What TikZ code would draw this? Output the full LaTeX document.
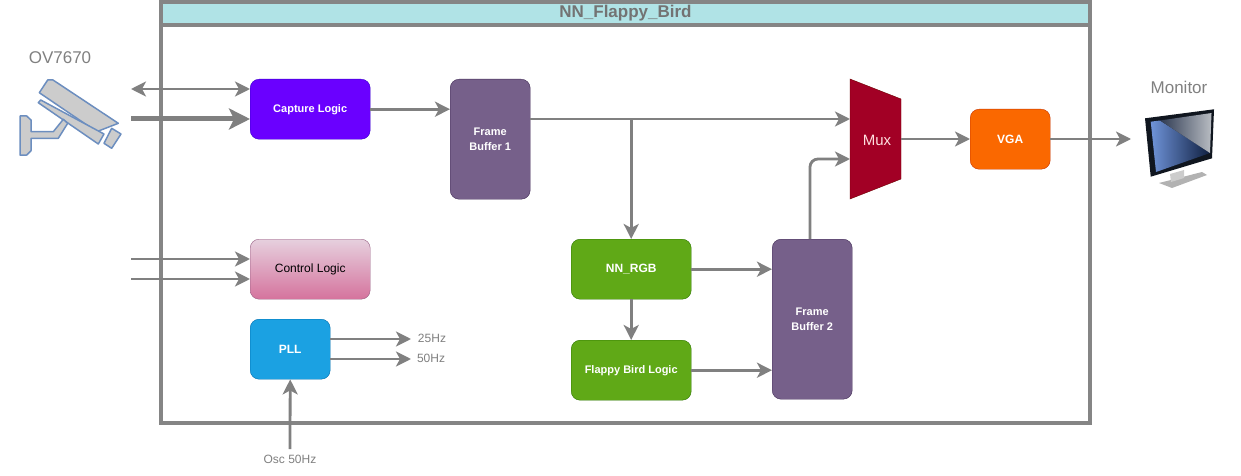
\documentclass[tikz,border=0pt]{standalone}
\usepackage{fontspec}
\setmainfont{Liberation Sans}
\usetikzlibrary{arrows.meta}
\definecolor{linegray}{HTML}{808080}
\definecolor{framegray}{HTML}{858585}
\definecolor{titlefill}{HTML}{B0E3E6}
\definecolor{purplefill}{HTML}{6A00FF}
\definecolor{purpleline}{HTML}{3700CC}
\definecolor{fbfill}{HTML}{76608A}
\definecolor{fbline}{HTML}{432D57}
\definecolor{greenfill}{HTML}{60A917}
\definecolor{greenline}{HTML}{2D7600}
\definecolor{orangefill}{HTML}{FA6800}
\definecolor{orangeline}{HTML}{C73500}
\definecolor{pinktop}{HTML}{E6D0DE}
\definecolor{pinkbot}{HTML}{D5739D}
\definecolor{pinkline}{HTML}{996185}
\definecolor{bluefill}{HTML}{1BA1E2}
\definecolor{blueline}{HTML}{006EAF}
\definecolor{muxfill}{HTML}{A20025}
\definecolor{muxline}{HTML}{6F0000}
\definecolor{camline}{HTML}{6C8EBF}
\definecolor{camfill}{HTML}{CCCCCC}
\definecolor{screenblue}{HTML}{6F93D8}
\definecolor{screennavy}{HTML}{0F1F40}
\definecolor{screengrey}{HTML}{2E3A52}
\definecolor{screenlight}{HTML}{B8BCC2}
\definecolor{bezel}{HTML}{10161F}

\newcommand\blocktext{\fontsize{11}{15}\selectfont\bfseries}
\newcommand\blockbig{\fontsize{12}{15}\selectfont\bfseries}

\tikzset{
  block/.style={draw,rounded corners=9pt,align=center,text=white,font=\blocktext,inner sep=0pt,anchor=north west},
  wire/.style={draw=linegray,line width=2.8pt,-{Stealth[length=15pt,width=15pt,inset=4pt]}},
  dblwire/.style={draw=linegray,line width=2.8pt,{Stealth[length=15pt,width=15pt,inset=4pt]}-{Stealth[length=15pt,width=15pt,inset=4pt]}},
  fatwire/.style={draw=linegray,line width=5pt,-{Stealth[length=21pt,width=21pt,inset=5pt]}},
  frame/.style={draw=framegray,line width=4pt,inner sep=0pt,outer sep=0pt,anchor=north west,minimum width=929pt},
  caption/.style={text=linegray,inner sep=0pt},
}

\begin{document}
\begin{tikzpicture}[x=1pt,y=-1pt]
    \useasboundingbox (0,0) rectangle (1241,476);

    % top level frame
    \node[frame,fill=white,minimum height=421pt] (top) at (161,2) {};
    \node[frame,fill=titlefill,minimum height=23pt,text=linegray!90!black,font=\fontsize{17}{18}\selectfont\bfseries] (title) at (161,2) {NN\_Flappy\_Bird};

    % blocks
    \node[block,fill=purplefill,draw=purpleline,minimum width=120pt,minimum height=60pt] (capture) at (250,79) {Capture Logic};
    \node[block,fill=fbfill,draw=fbline,minimum width=80pt,minimum height=120pt] (fb1) at (450,79) {Frame\\Buffer 1};
    \node[block,fill=greenfill,draw=greenline,font=\blockbig,minimum width=120pt,minimum height=60pt] (rgb) at (571,239) {NN\_RGB};
    \node[block,fill=greenfill,draw=greenline,minimum width=120pt,minimum height=60pt] (flappy) at (571,340) {Flappy Bird Logic};
    \node[block,fill=fbfill,draw=fbline,minimum width=80pt,minimum height=160pt] (fb2) at (772,239) {Frame\\Buffer 2};
    \node[block,fill=orangefill,draw=orangeline,font=\blockbig,minimum width=80pt,minimum height=60pt] (vga) at (970,109) {VGA};
    \node[block,top color=pinktop,bottom color=pinkbot,draw=pinkline,text=black,font=\fontsize{12}{15}\selectfont,minimum width=120pt,minimum height=60pt] (control) at (250,239) {Control Logic};
    \node[block,fill=bluefill,draw=blueline,font=\blockbig,minimum width=80pt,minimum height=60pt] (pll) at (250,319) {PLL};

    % mux
    \draw[fill=muxfill,draw=muxline] (850,79) -- (901,99) -- (901,179) -- (850,199) -- cycle;
    \node[text=white!88!red,font=\fontsize{15}{16}\selectfont,inner sep=0pt] (mux) at (877,140) {Mux};
    \coordinate (muxa) at (850,119);
    \coordinate (muxb) at (850,159);
    \coordinate (muxout) at (901,139);

    % camera
    \begin{scope}[line width=1.5pt,line join=round]
      \draw[draw=camline,fill=camfill] (39.3,92.7) -- (47.7,80) -- (53,80) -- (118.3,123.3) -- (96.7,131.7) -- cycle;
      \draw[draw=camline,fill=camfill] (38.3,102.7) -- (40.7,100) -- (104,134) -- (98.3,144) -- cycle;
      \draw[draw=camline,fill=camfill] (111.7,128.3) -- (121,134) -- (111.7,148.3) -- (104,143.3) -- cycle;
      \draw[draw=camline,fill=camfill] (20,116) -- (26.7,116) -- (31,120) -- (31,131.7) -- (53.3,131.7) -- (63.3,119.3) -- (67.7,123.3) -- (58.3,138.3) -- (31,138.3) -- (31,150.7) -- (26.7,155) -- (20,155) -- cycle;
    \end{scope}
    \node[caption,font=\fontsize{17}{18}\selectfont] (cam) at (60,58) {OV7670};

    % monitor
    \fill[gray!60] (1159,183) -- (1202,172) -- (1207,175) -- (1172,188) -- cycle;
    \fill[gray!40] (1170,174) -- (1184,170) -- (1184,178) -- (1171,182) -- cycle;
    \fill[bezel] (1145,118.3) -- (1214,109.3) -- (1212,158.3) -- (1150.7,176.7) -- cycle;
    \shade[left color=screenblue,right color=screennavy] (1150.7,121.7) -- (1160,120.5) -- (1210,153) -- (1156,172) -- cycle;
    \shade[left color=screengrey,right color=screenlight] (1160,120.5) -- (1211.5,113) -- (1210,153) -- cycle;
    \node[caption,font=\fontsize{17}{18}\selectfont] (mon) at (1179,87) {Monitor};

    % free ends
    \coordinate (camio) at (131,89);
    \coordinate (camdata) at (131,119);
    \coordinate (ctla) at (131,259);
    \coordinate (ctlb) at (131,279);
    \coordinate (monin) at (1131,139);
    \coordinate (f25in) at (411,339);
    \coordinate (f50in) at (411,359);
    \coordinate (oscout) at (290,449);
    \coordinate (fbout) at (810,239);
    \node[caption,font=\fontsize{12}{14}\selectfont] (osc) at (290,459) {Osc 50Hz};
    \node[caption,font=\fontsize{12}{14}\selectfont] (f25) at (432,338) {25Hz};
    \node[caption,font=\fontsize{12}{14}\selectfont] (f50) at (431,358) {50Hz};

    % connectors
    \draw[dblwire] (camio) -- (capture.west |- camio);
    \draw[fatwire] (camdata) -- (capture.west |- camdata);
    \draw[wire] (capture.east) -- (fb1.west |- capture.east);
    \draw[wire] (fb1.east |- muxa) -- (muxa);
    \draw[wire] (rgb.north |- muxa) -- (rgb.north);
    \draw[wire] (rgb.east) -- (fb2.west |- rgb.east);
    \draw[wire] (rgb) -- (flappy);
    \draw[wire] (flappy.east) -- (fb2.west |- flappy.east);
    \draw[wire,rounded corners=8pt] (fbout) |- (muxb);
    \draw[wire] (muxout) -- (vga.west |- muxout);
    \draw[wire] (vga.east |- monin) -- (monin);
    \draw[wire] (ctla) -- (control.west |- ctla);
    \draw[wire] (ctlb) -- (control.west |- ctlb);
    \draw[wire] (pll.east |- f25in) -- (f25in);
    \draw[wire] (pll.east |- f50in) -- (f50in);
    \draw[wire] (oscout) -- (pll.south);
  \end{tikzpicture}
\end{document}
